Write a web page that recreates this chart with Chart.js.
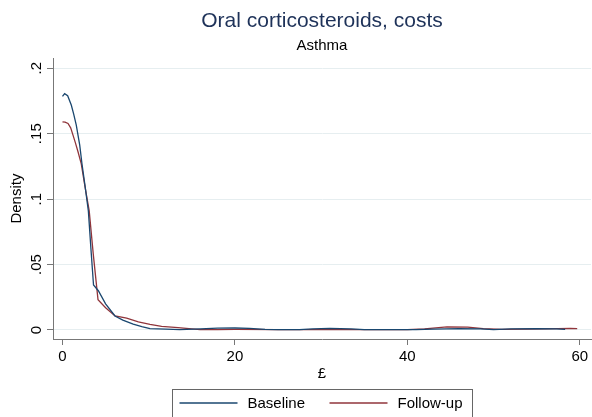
<!DOCTYPE html>
<html><head><meta charset="utf-8">
<script src="https://cdn.jsdelivr.net/npm/chart.js@4/dist/chart.umd.min.js"></script>
<style>html,body{margin:0;padding:0;background:#fff;}#wrap{width:592px;height:417px;}</style>
</head><body><div id="wrap"><canvas id="c" width="592" height="417"></canvas></div>
<script>
const titleText = 'Oral corticosteroids, costs';
const subtitleText = 'Asthma';
const xTitle = '£';
const yTitle = 'Density';
const seriesNames = ['Baseline', 'Follow-up'];
const xTicks = [0, 20, 40, 60];
const yTicks = [0, 0.05, 0.1, 0.15, 0.2];
const yTickLabels = ['0', '.05', '.1', '.15', '.2'];

const baselineX = [0, 0.25, 0.6, 1.02, 1.3, 1.6, 2.0, 2.26, 2.6, 3.0, 3.3, 3.6, 4.16, 5.0, 6.09, 7.0, 8.2, 9.2, 10.15, 12, 13.6, 16, 18, 20, 21.7, 23.5, 25, 27.5, 29, 31, 33.5, 35, 38, 41, 43, 46, 48.5, 50, 52, 55, 57.3, 58.3];
const baselineY = [0.1785, 0.1806, 0.179, 0.1719, 0.1650, 0.1565, 0.1412, 0.127, 0.111, 0.091, 0.062, 0.0344, 0.030, 0.020, 0.0107, 0.0075, 0.0044, 0.0025, 0.0011, 0.0007, 0.0002, 0.0009, 0.0014, 0.0015, 0.0012, 0.0005, 0.0002, 0.0002, 0.0009, 0.0012, 0.0008, 0.0002, 0.0002, 0.0002, 0.0006, 0.0010, 0.0008, 0.0003, 0.0009, 0.0011, 0.0008, 0.0005];

const followupX = [0, 0.3, 0.64, 0.95, 1.22, 1.5, 1.8, 2.18, 2.6, 3.1, 3.57, 4.12, 5.0, 6.1, 7.44, 8.8, 10.15, 11.5, 13.4, 15.95, 18, 20, 25, 30, 35, 40, 42, 44.6, 47, 48.8, 51, 54, 56, 58.9, 59.7];
const followupY = [0.1591, 0.1588, 0.1578, 0.1545, 0.1489, 0.1430, 0.1362, 0.127, 0.110, 0.091, 0.058, 0.0232, 0.017, 0.0107, 0.009, 0.0062, 0.0042, 0.0028, 0.0018, 0.0003, 0.0003, 0.0004, 0.0002, 0.0003, 0.0002, 0.0003, 0.0008, 0.0023, 0.0021, 0.0010, 0.0004, 0.0006, 0.0008, 0.0012, 0.0010];

const seriesColors = ['#1a476f', '#90353b'];
const FONT = "'Liberation Sans', Arial, sans-serif";

function toPoints(xs, ys) { return xs.map((x, i) => ({ x: x, y: ys[i] })); }

const customDraw = {
  id: 'customDraw',
  afterDraw(chart) {
    const ctx = chart.ctx;
    const ys = chart.scales.y;
    const xs = chart.scales.x;
    const ca = chart.chartArea;
    ctx.save();
    // rotated y tick labels
    ctx.fillStyle = '#000';
    ctx.font = '15px ' + FONT;
    ctx.textAlign = 'center';
    ctx.textBaseline = 'middle';
    yTicks.forEach((v, i) => {
      const py = ys.getPixelForValue(v);
      ctx.save();
      ctx.translate(ca.left - 16, py);
      ctx.rotate(-Math.PI / 2);
      ctx.fillText(yTickLabels[i], 0, 0);
      ctx.restore();
    });
    // legend box
    const cx = (ca.left + ca.right) / 2;
    const bw = 300;
    const bl = Math.round(cx - bw / 2) + 0.5;
    const bt = Math.round(xs.bottom) + 0.5;
    ctx.strokeStyle = '#666';
    ctx.lineWidth = 1;
    ctx.fillStyle = '#fff';
    ctx.fillRect(bl, bt, bw, 60);
    ctx.strokeRect(bl, bt, bw, 60);
    const ly = bt + 13.5;
    const items = [{ off: 7, toff: 75 }, { off: 157, toff: 225 }];
    ctx.textAlign = 'left';
    ctx.textBaseline = 'middle';
    items.forEach((it, i) => {
      ctx.strokeStyle = seriesColors[i];
      ctx.lineWidth = 1.3;
      ctx.beginPath();
      ctx.moveTo(bl + it.off, ly);
      ctx.lineTo(bl + it.off + 58, ly);
      ctx.stroke();
      ctx.fillStyle = '#000';
      ctx.fillText(seriesNames[i], bl + it.toff, ly + 1);
    });
    ctx.restore();
  }
};

new Chart(document.getElementById('c'), {
  type: 'line',
  data: {
    datasets: [
      { label: seriesNames[0], data: toPoints(baselineX, baselineY), borderColor: seriesColors[0], borderWidth: 1.3, pointRadius: 0, tension: 0, fill: false },
      { label: seriesNames[1], data: toPoints(followupX, followupY), borderColor: seriesColors[1], borderWidth: 1.3, pointRadius: 0, tension: 0, fill: false }
    ]
  },
  options: {
    responsive: false,
    devicePixelRatio: 1,
    animation: false,
    layout: { padding: { top: 0, right: 1, bottom: 28, left: 0 } },
    plugins: {
      legend: { display: false },
      tooltip: { enabled: false },
      title: { display: true, text: titleText, fullSize: false, color: '#1e3259', font: { family: FONT, size: 21, weight: 'normal', lineHeight: 1.2 }, padding: { top: 9, bottom: 0 } },
      subtitle: { display: true, text: subtitleText, fullSize: false, color: '#000', font: { family: FONT, size: 15, weight: 'normal', lineHeight: 1.2 }, padding: { top: 3, bottom: 3 } }
    },
    scales: {
      x: {
        type: 'linear', min: -1.1, max: 61.3,
        afterBuildTicks: s => { s.ticks = xTicks.map(v => ({ value: v })); },
        afterFit: s => { s.height = 50; },
        ticks: { color: '#000', font: { family: FONT, size: 15 }, padding: 3, maxRotation: 0, autoSkip: false },
        grid: { drawOnChartArea: false, drawTicks: true, tickLength: 6, tickColor: '#777', tickWidth: 1 },
        border: { display: true, color: '#777', width: 1 },
        title: { display: true, text: xTitle, color: '#000', font: { family: FONT, size: 15 }, padding: { top: 0, bottom: 6 } }
      },
      y: {
        type: 'linear', min: -0.0069, max: 0.2077,
        afterBuildTicks: s => { s.ticks = yTicks.map(v => ({ value: v })); },
        afterFit: s => { s.width = 53; },
        ticks: { display: false },
        grid: { color: '#e6eef0', lineWidth: 1, drawTicks: true, tickLength: 6, tickColor: '#777', tickWidth: 1 },
        border: { display: true, color: '#777', width: 1 },
        title: { display: true, text: yTitle, color: '#000', font: { family: FONT, size: 15 }, padding: { top: 8, bottom: 0 } }
      }
    }
  },
  plugins: [customDraw]
});
</script>
</body></html>
